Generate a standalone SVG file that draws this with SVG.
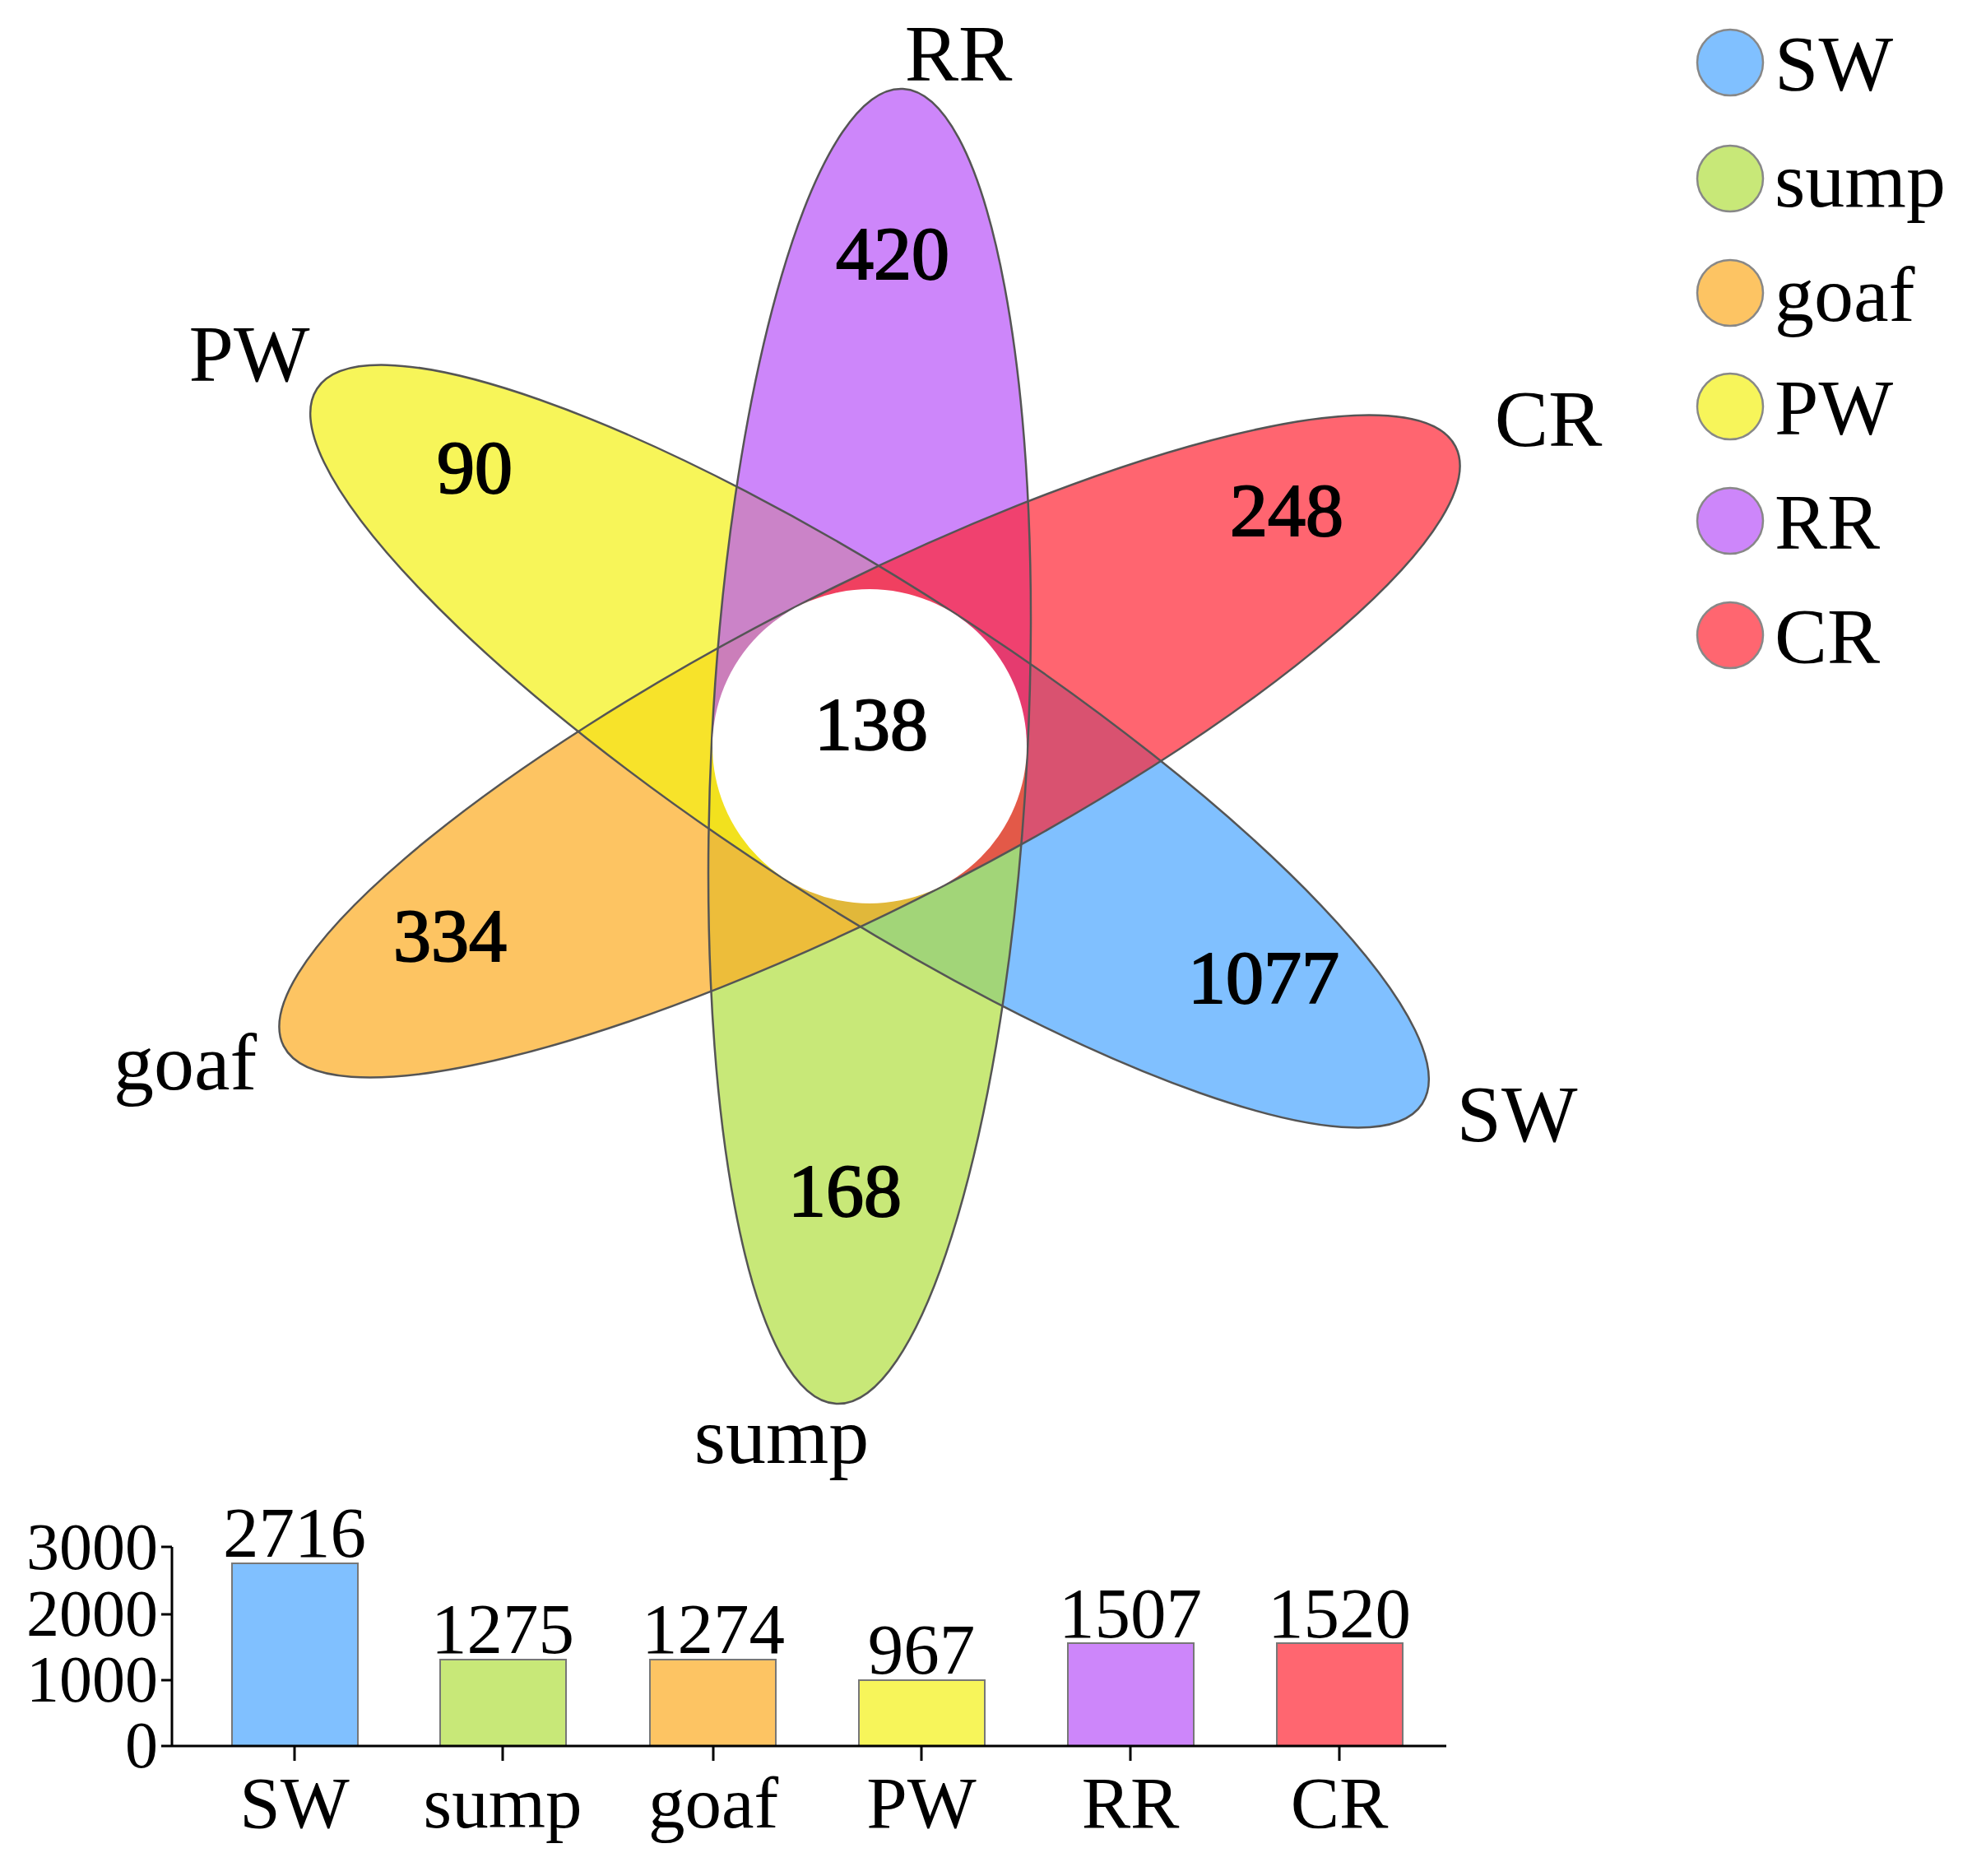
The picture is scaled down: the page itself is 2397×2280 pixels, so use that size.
<svg xmlns="http://www.w3.org/2000/svg" width="2397" height="2280" viewBox="0 0 2397 2280">
  <defs>
    <path id="petal" d="M -192 0 A 192 800 0 0 1 0 -800 A 192 800 0 0 1 192 0 Z"/>
    <style>
      text { font-family: "Liberation Serif", "Times New Roman", serif; fill: #000; }
      .num { font-size: 92px; text-anchor: middle; stroke: #000; stroke-width: 2; }
      .name { font-size: 98px; text-anchor: middle; }
      .leg { font-size: 96px; }
      .ytick { font-size: 80px; text-anchor: end; }
      .val { font-size: 87px; text-anchor: middle; }
      .xlab { font-size: 89px; text-anchor: middle; }
      .pf { fill-opacity: 0.7; stroke: none; }
      .outline { fill: none; stroke: #555; stroke-width: 2.5; }
      .bar { stroke: #777; stroke-width: 2; }
      .legc { stroke: #888; stroke-width: 2.5; }
      .axis { stroke: #000; stroke-width: 3; fill: none; }
    </style>
  </defs>
  <rect width="2397" height="2280" fill="#fff"/>

  <!-- Flower petals (half ellipses) -->
  <g id="petal-SW"><use href="#petal" class="pf" fill="#4AA5FF" transform="translate(1057 907) rotate(122.9)"/></g>
  <g id="petal-sump"><use href="#petal" class="pf" fill="#B0DE3E" transform="translate(1057 907) rotate(182.9)"/></g>
  <g id="petal-goaf"><use href="#petal" class="pf" fill="#FCAB20" transform="translate(1057 907) rotate(242.9)"/></g>
  <g id="petal-PW"><use href="#petal" class="pf" fill="#F4F113" transform="translate(1057 907) rotate(302.9)"/></g>
  <g id="petal-RR"><use href="#petal" class="pf" fill="#B852F8" transform="translate(1057 907) rotate(2.9)"/></g>
  <g id="petal-CR"><use href="#petal" class="pf" fill="#FF2433" transform="translate(1057 907) rotate(62.9)"/></g>

  <!-- petal outlines -->
  <g id="outlines">
    <ellipse class="outline" cx="0" cy="0" rx="192" ry="800" transform="translate(1057 907) rotate(2.9)"/>
    <ellipse class="outline" cx="0" cy="0" rx="192" ry="800" transform="translate(1057 907) rotate(62.9)"/>
    <ellipse class="outline" cx="0" cy="0" rx="192" ry="800" transform="translate(1057 907) rotate(122.9)"/>
  </g>

  <!-- core -->
  <g id="core">
    <circle cx="1057" cy="907" r="191" fill="#fff"/>
    <text class="num" x="1059" y="911">138</text>
  </g>

  <!-- petal counts -->
  <g id="counts">
    <text class="num" x="1085" y="339">420</text>
    <text class="num" x="577" y="599">90</text>
    <text class="num" x="1564" y="651">248</text>
    <text class="num" x="547" y="1168">334</text>
    <text class="num" x="1536" y="1219">1077</text>
    <text class="num" x="1027" y="1478">168</text>
  </g>

  <!-- petal names -->
  <g id="petal-names">
    <text class="name" x="1165" y="98">RR</text>
    <text class="name" x="303" y="463">PW</text>
    <text class="name" x="1882" y="542">CR</text>
    <text class="name" x="225" y="1324">goaf</text>
    <text class="name" x="1844" y="1387">SW</text>
    <text class="name" x="950" y="1778">sump</text>
  </g>

  <!-- legend -->
  <g id="legend">
    <g id="legend-SW"><circle class="legc" cx="2103" cy="76" r="40" fill="#80C0FF"/><text class="leg" x="2157" y="110">SW</text></g>
    <g id="legend-sump"><circle class="legc" cx="2103" cy="217" r="40" fill="#C8E878"/><text class="leg" x="2157" y="251">sump</text></g>
    <g id="legend-goaf"><circle class="legc" cx="2103" cy="356" r="40" fill="#FDC463"/><text class="leg" x="2157" y="390">goaf</text></g>
    <g id="legend-PW"><circle class="legc" cx="2103" cy="494" r="40" fill="#F7F55A"/><text class="leg" x="2157" y="528">PW</text></g>
    <g id="legend-RR"><circle class="legc" cx="2103" cy="633" r="40" fill="#CD86FA"/><text class="leg" x="2157" y="667">RR</text></g>
    <g id="legend-CR"><circle class="legc" cx="2103" cy="772" r="40" fill="#FF6670"/><text class="leg" x="2157" y="806">CR</text></g>
  </g>

  <!-- bar chart -->
  <g id="bar-chart">
    <g id="bars">
      <rect class="bar" x="282" y="1900" width="153" height="222" fill="#80C0FF"/>
      <rect class="bar" x="535" y="2017" width="153" height="105" fill="#C8E878"/>
      <rect class="bar" x="790" y="2017" width="153" height="105" fill="#FDC463"/>
      <rect class="bar" x="1044" y="2042" width="153" height="80" fill="#F7F55A"/>
      <rect class="bar" x="1298" y="1997" width="153" height="125" fill="#CD86FA"/>
      <rect class="bar" x="1552" y="1997" width="153" height="125" fill="#FF6670"/>
    </g>
    <g id="bar-values">
      <text class="val" x="358" y="1892">2716</text>
      <text class="val" x="611" y="2009">1275</text>
      <text class="val" x="867" y="2009">1274</text>
      <text class="val" x="1120" y="2034">967</text>
      <text class="val" x="1374" y="1990">1507</text>
      <text class="val" x="1628" y="1990">1520</text>
    </g>
    <g id="axes">
      <path class="axis" d="M 209 1880 V 2122 M 209 2122 H 1758"/>
      <path class="axis" d="M 196 1880 H 209 M 196 1962 H 209 M 196 2042 H 209 M 196 2122 H 209"/>
      <path class="axis" d="M 358 2122 V 2140 M 611 2122 V 2140 M 867 2122 V 2140 M 1120 2122 V 2140 M 1374 2122 V 2140 M 1628 2122 V 2140"/>
    </g>
    <g id="y-labels">
      <text class="ytick" x="192" y="1907">3000</text>
      <text class="ytick" x="192" y="1988">2000</text>
      <text class="ytick" x="192" y="2068">1000</text>
      <text class="ytick" x="192" y="2148">0</text>
    </g>
    <g id="x-labels">
      <text class="xlab" x="358" y="2221">SW</text>
      <text class="xlab" x="611" y="2221">sump</text>
      <text class="xlab" x="867" y="2221">goaf</text>
      <text class="xlab" x="1120" y="2221">PW</text>
      <text class="xlab" x="1374" y="2221">RR</text>
      <text class="xlab" x="1628" y="2221">CR</text>
    </g>
  </g>
</svg>
